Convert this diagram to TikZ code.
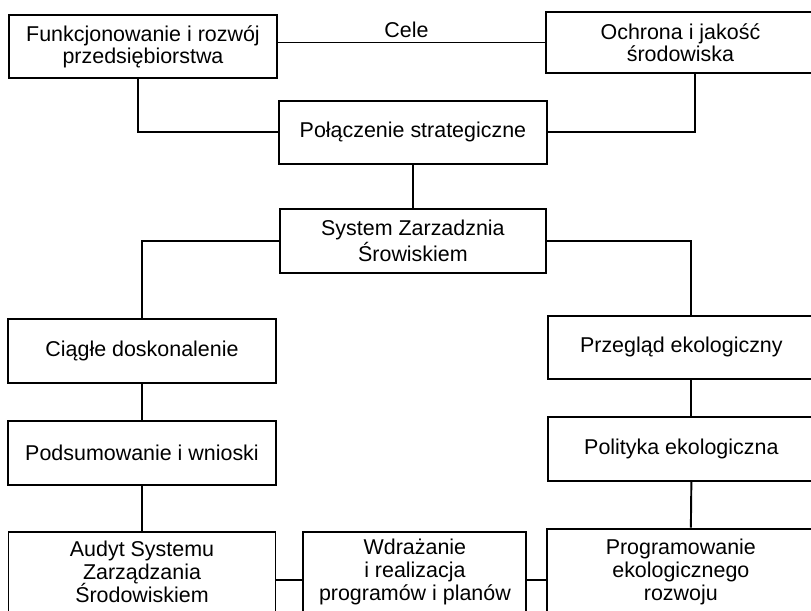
\documentclass[tikz,border=0pt]{standalone}
\usepackage{fontspec}
\setmainfont{Liberation Sans}
\usepackage{tikz}
\usetikzlibrary{positioning}

\newcommand{\trzywiersze}[1]{\raisebox{0.15cm}[\height][\depth]{\parbox{4.4cm}{\centering\fontsize{12.2}{13}\selectfont\lineskiplimit=-20pt #1}}}

\tikzset{
	pismo/.style={font=\fontsize{12.2}{12.5}\selectfont},
	blok/.style={draw, line width=1.1pt, inner sep=0pt, align=center, pismo},
	linia/.style={line width=1.1pt}
}

\begin{document}
\begin{tikzpicture}
	\useasboundingbox (0,0) rectangle (16.22,-12.22);

	\node[blok, minimum width=5.36cm, minimum height=1.26cm] (funk) at (2.86,-0.93) {Funkcjonowanie i rozwój\\przedsiębiorstwa};
	\node[blok, minimum width=5.38cm, minimum height=1.22cm, right = 5.34cm of funk, yshift=0.08cm] (ochr) {Ochrona i jakość\\środowiska};
	\node[blok, minimum width=5.36cm, minimum height=1.26cm, below = 0.42cm of funk.south east, anchor=north west] (pol) {Połączenie strategiczne};
	\node[blok, minimum width=5.32cm, minimum height=1.28cm, below = 0.86cm of pol] (szs) {System Zarzadznia\\Śrowiskiem};

	\node[blok, minimum width=5.36cm, minimum height=1.28cm, below = 0.88cm of szs.south west, anchor=north east, xshift=-0.04cm] (ciag) {Ciągłe doskonalenie};
	\node[blok, minimum width=5.36cm, minimum height=1.28cm, below = 0.72cm of ciag] (pods) {Podsumowanie i wnioski};
	\node[blok, minimum width=5.34cm, minimum height=1.92cm, below = 0.9cm of pods] (audyt) {\trzywiersze{Audyt Systemu\\Zarządzania\\Środowiskiem}};
	\node[blok, minimum width=4.46cm, minimum height=1.92cm, right = 0.52cm of audyt] (wdr) {\trzywiersze{Wdrażanie\\i realizacja\\programów i planów}};
	\node[blok, minimum width=5.34cm, minimum height=2.04cm, right = 0.38cm of wdr] (prog) {\trzywiersze{Programowanie\\ekologicznego\\rozwoju}};

	\node[blok, minimum width=5.34cm, minimum height=1.26cm, below = 0.82cm of szs.south east, anchor=north west] (przeg) {Przegląd ekologiczny};
	\node[blok, minimum width=5.34cm, minimum height=1.28cm, below = 0.72cm of przeg] (polit) {Polityka ekologiczna};

	%edges
	\draw[linia] (ochr.west) -- (ochr.west -| funk.east) node[midway, above, pismo, inner sep=2pt, xshift=-0.1cm] {Cele};
	\draw[linia] ([xshift=-0.1cm]funk.south) |- (pol.west);
	\draw[linia] ([xshift=0.29cm]ochr.south) |- (pol.east);
	\draw[linia] (pol) -- (szs);
	\draw[linia] (szs.west) -| (ciag.north);
	\draw[linia] (szs.east) -| ([xshift=0.19cm]przeg.north);
	\draw[linia] (ciag) -- (pods);
	\draw[linia] (pods) -- (audyt);
	\draw[linia] ([xshift=0.19cm]przeg.south) -- ([xshift=0.19cm]polit.north);
	\draw[linia] ([xshift=0.2cm]polit.south) -- ([xshift=0.2cm]prog.north);
	\draw[linia] (audyt) -- (wdr);
	\draw[linia] (wdr) -- (prog);
\end{tikzpicture}
\end{document}
